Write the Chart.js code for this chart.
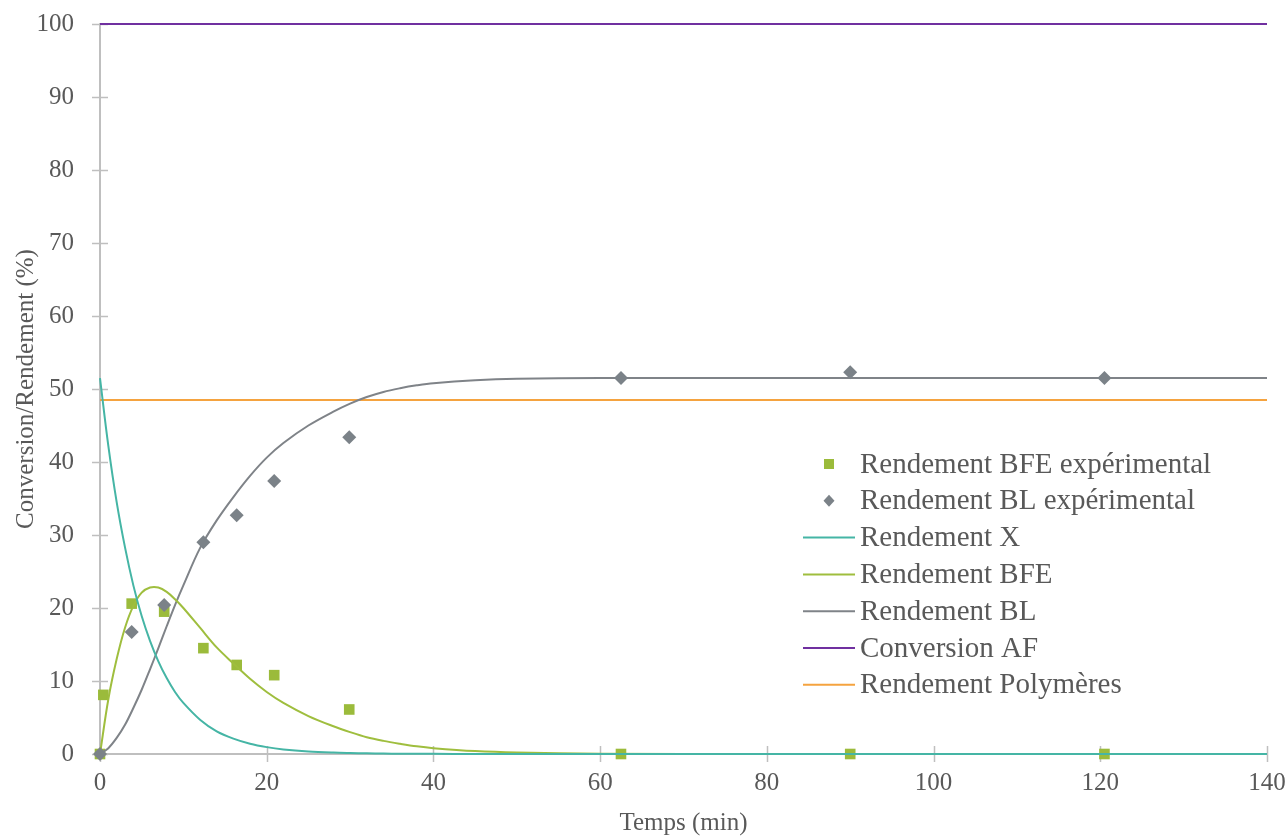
<!DOCTYPE html>
<html>
<head>
<meta charset="utf-8">
<script src="https://cdn.jsdelivr.net/npm/chart.js@4/dist/chart.umd.min.js"></script>
<style>
    html, body { margin: 0; padding: 0; background: #ffffff; }
    #wrap { width: 1288px; height: 836px; }
</style>
</head>
<body>
<div id="wrap"><canvas id="chart" width="1288" height="836"></canvas></div>
<script>
// experimental points
const tExpBfe = [0, 0.4, 3.8, 7.7, 12.4, 16.4, 20.9, 29.9, 62.5, 90, 120.5];
const bfeExp = [0, 8.1, 20.6, 19.5, 14.5, 12.2, 10.8, 6.1, 0, 0, 0];
const tExpBl = [0, 3.8, 7.7, 12.4, 16.4, 20.9, 29.9, 62.5, 90, 120.5];
const blExp = [0, 16.7, 20.4, 29.0, 32.7, 37.4, 43.4, 51.5, 52.3, 51.5];

// model curves
const tModel = [0, 1, 2, 3, 4, 5, 6, 7, 8, 9, 10, 12, 14, 16, 18, 20, 22, 25, 28, 30, 32, 34, 36, 38, 40, 45, 50, 60, 80, 100, 120, 140];
const xModel = [51.5, 42.2, 34.5, 28.3, 23.1, 18.9, 15.5, 12.7, 10.4, 8.5, 7.0, 4.7, 3.1, 2.1, 1.4, 0.94, 0.63, 0.35, 0.19, 0.13, 0.09, 0.06, 0.04, 0.03, 0.02, 0.01, 0, 0, 0, 0, 0, 0];
const bfeModel = [0, 7.5, 13.0, 17.3, 20.3, 22.1, 22.8, 22.8, 22.2, 21.2, 20.0, 17.3, 14.6, 12.4, 10.3, 8.5, 7.0, 5.2, 3.8, 3.0, 2.3, 1.8, 1.4, 1.05, 0.8, 0.4, 0.2, 0.05, 0, 0, 0, 0];
const blModel = [0, 0.8, 2.2, 4.0, 6.3, 8.8, 11.6, 14.5, 17.5, 20.4, 23.1, 28.2, 32.0, 35.2, 38.1, 40.6, 42.6, 45.0, 46.9, 48.0, 48.9, 49.6, 50.1, 50.5, 50.8, 51.2, 51.4, 51.5, 51.5, 51.5, 51.5, 51.5];

// flat lines
const tRange = [0, 140];
const afConversion = [100, 100];
const polymerYield = [48.5, 48.5];

const xTicks = [0, 20, 40, 60, 80, 100, 120, 140];
const yTicks = [0, 10, 20, 30, 40, 50, 60, 70, 80, 90, 100];

const FONT = "'Liberation Serif', 'DejaVu Serif', serif";
const TEXT = '#595959';
const AXIS = '#bfbfbf';

let myChart = null;

window.onload = function () {
    initChart();
};

function toPoints(xs, ys) {
    let pts = [];
    for (let i = 0; i < xs.length; ++i) {
        pts.push({ x: xs[i], y: ys[i] });
    }
    return pts;
}

function lineSet(label, xs, ys, color) {
    return {
        label: label,
        data: toPoints(xs, ys),
        showLine: true,
        borderColor: color,
        backgroundColor: color,
        borderWidth: 2,
        pointRadius: 0,
        tension: 0.35,
        clip: false
    };
}

// crossing tick marks on both axes
const crossTicks = {
    id: 'crossTicks',
    beforeDatasetsDraw(chart) {
        let ctx = chart.ctx;
        let area = chart.chartArea;
        let xs = chart.scales.x;
        let ys = chart.scales.y;
        ctx.save();
        ctx.strokeStyle = AXIS;
        ctx.lineWidth = 1.5;
        ctx.beginPath();
        for (let i = 0; i < yTicks.length; ++i) {
            let py = Math.round(ys.getPixelForValue(yTicks[i])) + 0.5;
            ctx.moveTo(area.left - 8, py);
            ctx.lineTo(area.left + 8, py);
        }
        for (let i = 0; i < xTicks.length; ++i) {
            let px = Math.round(xs.getPixelForValue(xTicks[i])) + 0.5;
            ctx.moveTo(px, area.bottom - 8);
            ctx.lineTo(px, area.bottom + 8);
        }
        ctx.stroke();
        ctx.restore();
    }
};

// legend drawn inside the plot area
const innerLegend = {
    id: 'innerLegend',
    afterDraw(chart) {
        let ctx = chart.ctx;
        let left = 803, right = 855, textX = 860;
        let top = 464, step = 36.8;
        ctx.save();
        ctx.font = '29px ' + FONT;
        ctx.textBaseline = 'middle';
        ctx.textAlign = 'left';
        chart.data.datasets.forEach(function (ds, i) {
            let y = top + i * step;
            let cx = (left + right) / 2;
            ctx.fillStyle = ds.backgroundColor;
            ctx.strokeStyle = ds.borderColor;
            if (ds.legendMarker === 'square') {
                ctx.fillRect(cx - 5, y - 5, 10, 10);
            } else if (ds.legendMarker === 'diamond') {
                ctx.beginPath();
                ctx.moveTo(cx, y - 6);
                ctx.lineTo(cx + 5.5, y);
                ctx.lineTo(cx, y + 6);
                ctx.lineTo(cx - 5.5, y);
                ctx.closePath();
                ctx.fill();
            } else {
                ctx.lineWidth = 2;
                ctx.beginPath();
                ctx.moveTo(left, y);
                ctx.lineTo(right, y);
                ctx.stroke();
            }
            ctx.fillStyle = TEXT;
            ctx.fillText(ds.label, textX, y + 1);
        });
        ctx.restore();
    }
};

function initChart() {
    let ctx = document.getElementById('chart').getContext('2d');
    myChart = new Chart(ctx, {
        type: 'scatter',
        data: {
            datasets: [
                {
                    label: 'Rendement BFE expérimental',
                    data: toPoints(tExpBfe, bfeExp),
                    pointStyle: 'rect',
                    pointRadius: 7.5,
                    pointHoverRadius: 7.5,
                    backgroundColor: '#9bbb3b',
                    borderColor: '#9bbb3b',
                    borderWidth: 0,
                    legendMarker: 'square',
                    order: 1,
                    clip: false
                },
                {
                    label: 'Rendement BL expérimental',
                    data: toPoints(tExpBl, blExp),
                    pointStyle: 'rectRot',
                    pointRadius: 7,
                    pointHoverRadius: 7,
                    backgroundColor: '#7b8288',
                    borderColor: '#7b8288',
                    borderWidth: 0,
                    legendMarker: 'diamond',
                    order: 0,
                    clip: false
                },
                lineSet('Rendement X', tModel, xModel, '#45b5a5'),
                lineSet('Rendement BFE', tModel, bfeModel, '#9fbe3e'),
                lineSet('Rendement BL', tModel, blModel, '#7f8388'),
                lineSet('Conversion AF', tRange, afConversion, '#7030a0'),
                lineSet('Rendement Polymères', tRange, polymerYield, '#f5a33f')
            ]
        },
        options: {
            responsive: false,
            animation: false,
            layout: { padding: { top: 24, right: 21, left: 0, bottom: 0 } },
            plugins: {
                legend: { display: false },
                tooltip: { enabled: false }
            },
            scales: {
                x: {
                    type: 'linear',
                    min: 0,
                    max: 140,
                    afterFit: function (scale) { scale.height = 82; },
                    afterBuildTicks: function (scale) {
                        scale.ticks = xTicks.map(function (v) { return { value: v }; });
                    },
                    grid: { display: false, drawTicks: true, tickLength: 12 },
                    border: { display: true, color: AXIS, width: 2 },
                    ticks: {
                        padding: 2,
                        color: TEXT,
                        font: { family: FONT, size: 25 },
                        maxRotation: 0
                    },
                    title: {
                        display: true,
                        text: 'Temps (min)',
                        color: TEXT,
                        font: { family: FONT, size: 25, lineHeight: 1.0 },
                        padding: { top: 0, bottom: 0 }
                    }
                },
                y: {
                    type: 'linear',
                    min: 0,
                    max: 100,
                    afterFit: function (scale) { scale.width = 100; },
                    afterBuildTicks: function (scale) {
                        scale.ticks = yTicks.map(function (v) { return { value: v }; });
                    },
                    grid: { display: false, drawTicks: true, tickLength: 24 },
                    border: { display: true, color: AXIS, width: 2 },
                    ticks: {
                        padding: 2,
                        color: TEXT,
                        font: { family: FONT, size: 25 }
                    },
                    title: {
                        display: true,
                        text: 'Conversion/Rendement (%)',
                        color: TEXT,
                        font: { family: FONT, size: 25 },
                        padding: { top: 11, bottom: 0 }
                    }
                }
            }
        },
        plugins: [crossTicks, innerLegend]
    });
}
</script>
</body>
</html>
